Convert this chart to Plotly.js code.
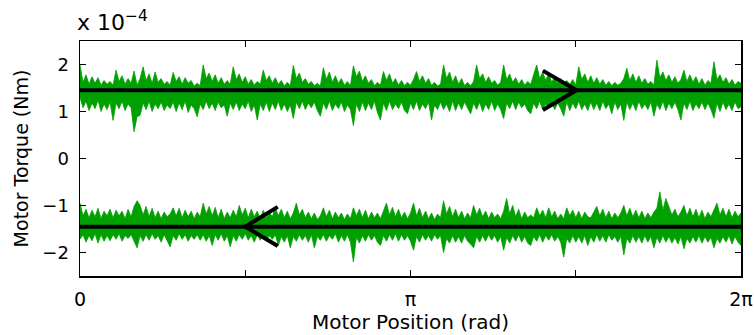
<!DOCTYPE html>
<html>
<head>
<meta charset="utf-8">
<script src="https://cdn.plot.ly/plotly-3.0.1.min.js"></script>
<style>
  html, body { margin: 0; padding: 0; background: #fff; }
  #chart { width: 754px; height: 335px; }
</style>
</head>
<body>
<div id="chart"></div>
<script>
// Motor torque ripple over one mechanical revolution, in units of 1e-4 Nm.
// Each column holds the min/max torque seen at that motor position.
const columnCount = 221;

// Forward rotation: column maxima and minima
const fwdHigh = [
  1.99,1.62,1.78,1.58,1.74,1.60,1.72,1.56,1.66,1.58,
  1.64,1.56,1.88,1.64,1.76,1.58,1.70,1.60,1.86,1.56,
  1.70,1.95,1.66,1.80,1.60,1.84,1.62,1.70,1.58,1.64,
  1.56,1.83,1.64,1.74,1.58,1.72,1.60,1.66,1.54,1.60,
  1.55,1.99,1.70,1.82,1.64,1.78,1.60,1.72,1.58,1.66,
  1.58,1.95,1.68,1.80,1.62,1.74,1.58,1.68,1.56,1.64,
  1.58,1.88,1.66,1.76,1.60,1.72,1.58,1.66,1.54,1.62,
  1.55,1.98,1.70,1.82,1.62,1.70,1.58,1.64,1.55,1.60,
  1.54,1.93,1.68,1.84,1.62,1.76,1.60,1.70,1.56,1.64,
  1.55,1.97,1.74,1.86,1.64,1.76,1.60,1.68,1.55,1.62,
  1.56,1.85,1.66,1.80,1.60,1.70,1.56,1.66,1.55,1.62,
  1.56,1.68,1.85,1.64,1.76,1.60,1.70,1.56,1.62,1.54,
  1.58,1.99,1.70,1.84,1.62,1.76,1.58,1.70,1.55,1.62,
  1.55,1.64,1.99,1.70,1.80,1.62,1.74,1.60,1.66,1.56,
  1.62,1.99,1.68,1.80,1.62,1.72,1.58,1.68,1.56,1.64,
  1.58,1.78,1.99,1.70,1.84,1.66,1.82,1.62,1.74,1.60,
  1.70,1.60,1.66,1.58,1.68,1.56,1.95,1.68,1.80,1.62,
  1.76,1.60,1.72,1.58,1.68,1.56,1.64,1.55,1.62,1.56,
  1.60,1.70,1.92,1.66,1.80,1.62,1.76,1.60,1.70,1.58,
  1.64,1.56,2.09,1.72,1.84,1.66,1.78,1.62,1.74,1.60,
  1.68,1.88,1.64,1.78,1.62,1.74,1.58,1.70,1.56,1.66,
  1.60,2.06,1.68,1.78,1.62,1.72,1.58,1.68,1.56,1.64,
  1.60
];
const fwdLow = [
  1.30,1.08,1.22,1.02,1.18,1.06,1.24,1.00,1.16,1.04,
  1.20,0.81,1.18,1.06,1.22,1.02,1.16,1.08,0.57,0.89,
  0.92,1.18,1.04,1.22,1.00,1.16,1.06,1.20,1.02,1.14,
  1.06,1.20,1.00,1.18,1.04,1.22,0.98,1.14,1.06,0.89,
  1.16,1.04,1.22,1.06,1.18,1.02,1.20,1.08,1.14,0.90,
  1.18,1.04,1.20,1.02,1.16,1.06,1.22,1.00,1.14,0.82,
  1.16,1.02,1.20,1.00,1.18,1.04,1.22,1.02,1.16,1.00,
  1.14,0.85,1.20,1.06,1.22,1.04,1.18,1.08,1.20,1.02,
  0.90,1.18,1.04,1.22,1.02,1.16,1.06,1.20,1.00,1.14,
  1.04,0.70,1.16,1.00,1.20,1.02,1.18,1.04,1.22,0.98,
  0.82,1.18,1.02,1.22,1.04,1.16,1.06,1.20,1.02,0.95,
  1.18,1.04,1.22,1.02,1.16,1.06,1.20,0.82,1.14,1.04,
  1.20,1.04,1.16,1.00,1.22,1.02,1.18,1.04,1.20,1.06,
  0.95,1.18,1.04,1.20,1.00,1.16,1.04,1.22,1.02,1.16,
  1.04,0.85,1.18,1.06,1.22,1.04,1.20,1.08,1.16,1.02,
  0.95,1.18,1.06,1.22,1.04,1.16,1.08,1.20,1.04,1.18,
  1.06,0.90,1.20,1.02,1.18,1.06,1.22,1.04,1.16,1.02,
  1.20,1.04,1.18,1.02,1.22,1.06,1.16,0.95,1.20,1.04,
  1.16,0.81,1.20,1.04,1.18,1.02,1.22,1.06,1.16,1.04,
  1.20,0.90,1.16,1.04,1.22,1.02,1.18,1.06,1.20,1.04,
  0.82,1.18,1.04,1.22,1.02,1.16,1.06,1.20,1.04,1.18,
  1.04,0.86,1.18,1.00,1.20,1.04,1.16,1.02,1.20,1.06,
  1.10
];

// Reverse rotation: column maxima and minima
const revHigh = [
  -0.95,-1.22,-1.08,-1.26,-1.10,-1.24,-1.06,-1.28,-1.12,-1.22,
  -1.08,-1.26,-1.10,-1.22,-1.12,-1.28,-1.08,-1.24,-1.02,-0.90,
  -1.00,-1.20,-1.02,-1.24,-1.06,-1.26,-1.12,-1.28,-1.14,-1.24,
  -1.18,-1.05,-1.22,-1.06,-1.26,-1.10,-1.24,-1.12,-1.28,-1.14,
  -1.24,-0.95,-1.18,-1.02,-1.22,-1.04,-1.26,-1.08,-1.28,-1.14,
  -1.26,-1.10,-1.24,-1.00,-1.20,-1.06,-1.26,-1.08,-1.24,-1.12,
  -1.28,-1.10,-1.26,-1.14,-1.24,-1.05,-1.22,-1.08,-1.26,-1.12,
  -1.28,-1.16,-0.95,-1.20,-1.08,-1.26,-1.14,-1.28,-1.16,-1.30,
  -1.22,-1.05,-1.24,-1.10,-1.28,-1.14,-1.26,-1.16,-1.30,-1.18,
  -1.28,-1.05,-1.22,-1.08,-1.26,-1.10,-1.28,-1.14,-1.26,-1.16,
  -1.28,-1.12,-0.95,-1.20,-1.04,-1.24,-1.08,-1.26,-1.14,-1.28,
  -1.16,-0.95,-1.22,-1.06,-1.26,-1.12,-1.28,-1.16,-1.30,-1.18,
  -1.26,-0.90,-1.18,-1.02,-1.24,-1.08,-1.26,-1.12,-1.28,-1.16,
  -1.26,-1.00,-1.20,-1.06,-1.24,-1.12,-1.28,-1.14,-1.26,-1.18,
  -1.28,-1.12,-0.85,-1.18,-1.00,-1.24,-1.08,-1.28,-1.14,-1.26,
  -1.20,-1.26,-1.05,-1.22,-1.10,-1.26,-1.05,-1.24,-1.12,-1.28,
  -1.18,-1.28,-1.05,-1.22,-1.10,-1.26,-1.12,-1.28,-1.14,-1.24,
  -1.26,-1.14,-1.02,-1.22,-1.08,-1.26,-1.12,-1.28,-1.16,-1.26,
  -1.16,-1.00,-1.22,-1.06,-1.24,-1.10,-1.26,-1.12,-1.28,-1.16,
  -1.26,-1.14,-1.06,-0.71,-1.10,-0.85,-1.02,-1.20,-1.08,-1.24,
  -1.14,-1.00,-1.22,-1.06,-1.24,-1.08,-1.26,-1.10,-1.28,-1.14,
  -1.24,-1.10,-0.95,-1.20,-1.06,-1.24,-1.08,-1.26,-1.12,-1.24,
  -1.16
];
const revLow = [
  -1.72,-1.62,-1.78,-1.64,-1.75,-1.60,-1.80,-1.62,-1.76,-1.64,
  -1.75,-1.62,-1.72,-1.60,-1.76,-1.64,-1.70,-1.62,-1.74,-1.90,
  -1.64,-1.76,-1.62,-1.74,-1.60,-1.72,-1.64,-1.78,-1.62,-1.74,
  -1.88,-1.64,-1.74,-1.60,-1.72,-1.62,-1.76,-1.64,-1.72,-1.62,
  -1.74,-1.62,-1.76,-1.64,-1.85,-1.62,-1.74,-1.60,-1.76,-1.64,
  -1.88,-1.64,-1.76,-1.62,-1.72,-1.60,-1.74,-1.64,-1.78,-1.62,
  -1.74,-1.60,-1.76,-1.64,-1.72,-1.62,-1.85,-1.66,-1.78,-1.64,
  -1.90,-1.66,-1.76,-1.62,-1.74,-1.64,-1.78,-1.62,-1.90,-1.66,
  -1.74,-1.62,-1.76,-1.64,-1.72,-1.60,-1.78,-1.64,-1.76,-1.62,
  -1.78,-2.20,-1.68,-1.80,-1.64,-1.76,-1.62,-1.74,-1.64,-1.78,
  -1.85,-1.64,-1.76,-1.62,-1.74,-1.60,-1.76,-1.62,-1.74,-1.64,
  -1.76,-1.95,-1.66,-1.78,-1.62,-1.74,-1.64,-1.76,-1.62,-1.72,
  -1.64,-2.00,-1.70,-1.80,-1.64,-1.78,-1.66,-1.80,-1.64,-1.76,
  -1.82,-1.90,-1.66,-1.78,-1.64,-1.76,-1.62,-1.74,-1.64,-1.78,
  -1.66,-1.95,-1.68,-1.80,-1.64,-1.76,-1.62,-1.78,-1.66,-1.80,
  -1.85,-1.66,-1.76,-1.62,-1.78,-1.64,-1.74,-1.62,-1.76,-1.66,
  -1.78,-2.10,-1.70,-1.80,-1.64,-1.78,-1.66,-1.80,-1.64,-1.85,
  -1.66,-1.78,-1.62,-1.76,-1.64,-1.78,-1.62,-1.74,-1.66,-1.78,
  -1.66,-2.05,-1.70,-1.80,-1.64,-1.78,-1.66,-1.80,-1.64,-1.78,
  -1.66,-1.90,-1.68,-1.80,-1.64,-1.78,-1.66,-1.80,-1.68,-1.82,
  -1.66,-1.92,-1.70,-1.80,-1.66,-1.78,-1.64,-1.80,-1.66,-1.78,
  -1.68,-1.90,-1.70,-1.80,-1.66,-1.78,-1.64,-1.82,-1.66,-1.78,
  -1.85
];

// Mean torque in each direction
const meanFwd = 1.45;
const meanRev = -1.45;

// Direction chevrons (rad, 1e-4 Nm)
const fwdArrowX = [4.40, 4.72, 4.40];
const fwdArrowY = [1.87, 1.45, 1.03];
const revArrowX = [1.88, 1.57, 1.88];
const revArrowY = [-1.03, -1.45, -1.86];

// Axis ticks: labelled at 0, π, 2π, unlabelled at the quarter turns
const xTickVals = [0, Math.PI, 2 * Math.PI];
const xTickText = ['0', 'π', '2π'];
const xMinorTickVals = [Math.PI / 2, 3 * Math.PI / 2];
const yTickVals = [-2, -1, 0, 1, 2];

const TWO_PI = 2 * Math.PI;
const positions = Array.from({length: columnCount}, (_, i) => i * TWO_PI / (columnCount - 1));

// Closed outline: along the maxima left to right, back along the minima
function band(lo, hi) {
  const x = positions.concat(positions.slice().reverse());
  const y = hi.concat(lo.slice().reverse());
  return {x, y};
}

const green = 'rgb(0,160,0)';
const fwdBand = band(fwdLow, fwdHigh);
const revBand = band(revLow, revHigh);

const traces = [
  {x: fwdBand.x, y: fwdBand.y, mode: 'lines', fill: 'toself', fillcolor: green,
   line: {color: green, width: 0.8}, hoverinfo: 'skip'},
  {x: revBand.x, y: revBand.y, mode: 'lines', fill: 'toself', fillcolor: green,
   line: {color: green, width: 0.8}, hoverinfo: 'skip'},
  {x: [0, TWO_PI], y: [meanFwd, meanFwd], mode: 'lines', line: {color: '#000', width: 4}},
  {x: [0, TWO_PI], y: [meanRev, meanRev], mode: 'lines', line: {color: '#000', width: 4}},
  {x: fwdArrowX, y: fwdArrowY, mode: 'lines', line: {color: '#000', width: 4}},
  {x: revArrowX, y: revArrowY, mode: 'lines', line: {color: '#000', width: 4}}
];

const font = {family: '"DejaVu Sans", "Liberation Sans", sans-serif', color: '#000'};

const layout = {
  width: 754,
  height: 335,
  margin: {l: 80, r: 13, t: 41, b: 59, pad: 0},
  paper_bgcolor: '#fff',
  plot_bgcolor: '#fff',
  showlegend: false,
  font: Object.assign({size: 16}, font),
  xaxis: {
    range: [0, TWO_PI],
    tickmode: 'array',
    tickvals: xTickVals,
    ticktext: xTickText,
    ticks: 'inside',
    ticklen: 6,
    tickwidth: 1,
    tickcolor: '#000',
    minor: {tickmode: 'array', tickvals: xMinorTickVals, ticks: 'inside', ticklen: 6, tickwidth: 1, tickcolor: '#000', showgrid: false},
    showline: true,
    linecolor: '#000',
    linewidth: 1.5,
    mirror: 'allticks',
    showgrid: false,
    zeroline: false,
    ticklabelstandoff: 6,
    tickfont: Object.assign({size: 19}, font),
    title: {text: 'Motor Position (rad)', font: Object.assign({size: 20}, font), standoff: 2}
  },
  yaxis: {
    range: [-2.5, 2.5],
    tickmode: 'array',
    tickvals: yTickVals,
    ticks: 'inside',
    ticklen: 6,
    tickwidth: 1,
    tickcolor: '#000',
    showline: true,
    linecolor: '#000',
    linewidth: 1.5,
    mirror: 'allticks',
    showgrid: false,
    zeroline: false,
    ticklabelstandoff: 6,
    tickfont: Object.assign({size: 18}, font),
    title: {text: 'Motor Torque (Nm)', font: Object.assign({size: 19}, font), standoff: 8}
  },
  annotations: [{
    xref: 'paper', yref: 'paper', x: 0, y: 1,
    xanchor: 'left', yanchor: 'bottom', xshift: -5, yshift: 4,
    text: 'x 10<sup>−4</sup>', showarrow: false,
    font: Object.assign({size: 22}, font)
  }]
};

Plotly.newPlot('chart', traces, layout, {staticPlot: true, displayModeBar: false});
</script>
</body>
</html>
